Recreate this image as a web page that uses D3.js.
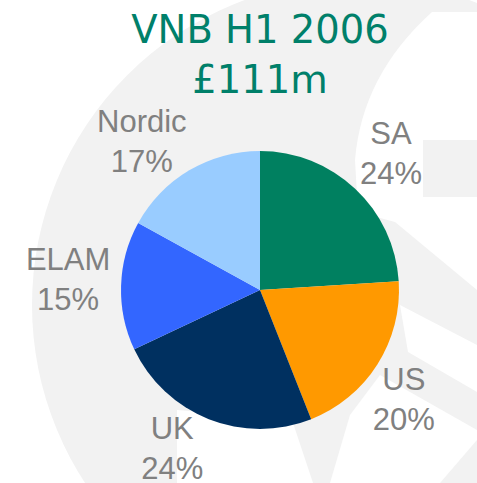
<!DOCTYPE html>
<html>
<head>
<meta charset="UTF-8">
<script src="https://d3js.org/d3.v7.min.js"></script>
<style>
  html, body { margin: 0; padding: 0; background: #fff; }
  svg { display: block; }
  .title { font-family: 'DejaVu Sans', sans-serif; font-size: 38.5px; fill: #00806a; }
  .lbl { font-family: 'Liberation Sans', Arial, sans-serif; font-size: 31px; fill: #808080; }
</style>
</head>
<body>
<svg id="chart" width="477" height="483"></svg>
<script>
  // data
  const regions = ['SA', 'US', 'UK', 'ELAM', 'Nordic'];
  const shares = [24, 20, 24, 15, 17];
  const colours = ['#008060', '#ff9900', '#003060', '#3366ff', '#99ccff'];
  const titleLines = ['VNB H1 2006', '£111m'];

  // small hand nudges so labels sit where the slide had them
  const nudge = [[3, -1], [-14, 9], [-19, -16], [-5, -5], [-23, 12]];

  const cx = 260, cy = 290, R = 139;

  const svg = d3.select('#chart');

  // faint watermark behind the chart
  const bg = svg.append('g').attr('class', 'watermark');
  bg.append('circle').attr('cx', 357).attr('cy', 305).attr('r', 325).attr('fill', '#f2f2f2');
  const whites = [
    'M432,12 Q362,75 355,160 L358,212 L395,222 L477,290 L477,197 L423,197 L423,140 L477,140 L477,12 Z',
    'M400,305 L477,345 L477,392 L408,352 Z',
    'M350,415 L380,375 L477,430 L477,440 L440,483 L330,483 Z',
    'M177,410 L177,483 L313,483 L292,420 Z'
  ];
  bg.selectAll('path.w').data(whites).join('path')
    .attr('class', 'w').attr('d', d => d).attr('fill', '#fff');

  // pie
  const pie = d3.pie().sort(null).value(d => d)(shares);
  const arc = d3.arc().innerRadius(0).outerRadius(R);
  const labelArc = d3.arc().innerRadius(187).outerRadius(187);

  const g = svg.append('g').attr('transform', `translate(${cx},${cy})`);
  g.selectAll('path.slice').data(pie).join('path')
    .attr('class', 'slice')
    .attr('d', arc)
    .attr('fill', (d, i) => colours[i]);

  // labels
  const lbl = g.selectAll('text.lbl').data(pie).join('text')
    .attr('class', 'lbl')
    .attr('text-anchor', 'middle')
    .attr('transform', (d, i) => {
      const c = labelArc.centroid(d);
      return `translate(${c[0] + nudge[i][0]},${c[1] + nudge[i][1]})`;
    });
  lbl.append('tspan').attr('x', 0).attr('y', -9).text((d, i) => regions[i]);
  lbl.append('tspan').attr('x', 0).attr('y', 31).text((d, i) => shares[i] + '%');

  // title
  svg.selectAll('text.title').data(titleLines).join('text')
    .attr('class', 'title')
    .attr('text-anchor', 'middle')
    .attr('x', 260)
    .attr('y', (d, i) => 43 + i * 50)
    .text(d => d);
</script>
</body>
</html>
